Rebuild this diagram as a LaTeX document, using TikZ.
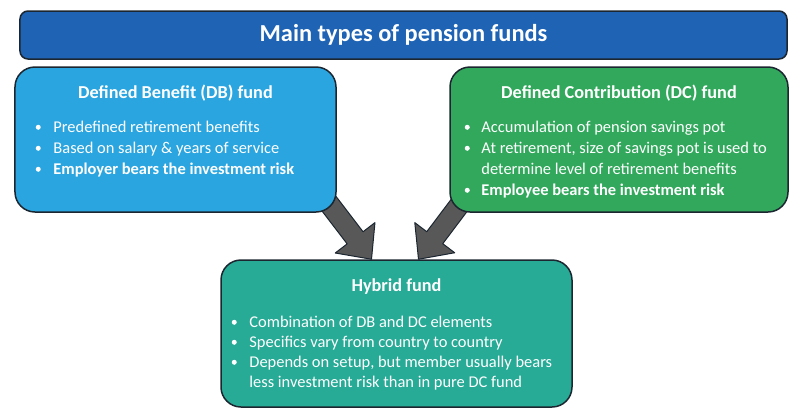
\documentclass[tikz,border=0pt]{standalone}
\usepackage{fontspec}
\setmainfont{Carlito}
\usetikzlibrary{calc,backgrounds}
\definecolor{titleblue}{RGB}{30,99,180}
\definecolor{dbblue}{RGB}{42,165,224}
\definecolor{dcgreen}{RGB}{49,168,92}
\definecolor{hybteal}{RGB}{39,170,150}
\definecolor{edgecol}{RGB}{28,38,48}
\definecolor{arrowgray}{RGB}{88,88,88}
\tikzset{x=1bp,y=1bp,every node/.style={font=\fontsize{16.5}{19}\selectfont,text=white},
 fundbox/.style={draw=edgecol,line width=1.5bp,rounded corners=20bp,inner sep=0},
 head/.style={font=\fontsize{18.3}{20}\selectfont\bfseries},
 item/.style={anchor=base west,inner sep=0},
 dot/.style={circle,fill=white,inner sep=0,minimum size=5bp},
 blockarrow/.style={fill=arrowgray,draw=edgecol,line width=1bp,line join=round}}
\begin{document}
\begin{tikzpicture}
\useasboundingbox (0,0) rectangle (800,-415);
\node[fundbox,rounded corners=8bp,fill=titleblue,minimum width=767bp,minimum height=48bp] (title) at (403.5,-35) {\fontsize{24.5}{27}\selectfont\bfseries Main types of pension funds};
\node[fundbox,fill=dbblue,minimum width=321bp,minimum height=145bp] (db) at (175.5,-139.5) {};
\node[fundbox,fill=dcgreen,minimum width=338bp,minimum height=145bp] (dc) at (619,-139.5) {};
\node[fundbox,fill=hybteal,minimum width=351bp,minimum height=147bp] (hyb) at (396.5,-333.5) {};
\node[head] (dbhead) at ([yshift=-27bp]db.north) {Defined Benefit (DB) fund};
\node[head] (dchead) at ([yshift=-27bp]dc.north) {Defined Contribution (DC) fund};
\node[head] (hybhead) at ([yshift=-27bp]hyb.north) {Hybrid fund};
% bullet lists, 1 = line with a bullet
\foreach \b/\t [count=\i] in {1/Predefined retirement benefits,1/Based on salary \& years of service,1/\textbf{Employer bears the investment risk}}{
\node[item] (db\i) at ($(db.north west)+(39,-45-21*\i)$) {\t};
\ifnum\b=1 \node[dot] (dbdot\i) at ($(db\i.base west)+(-15,5)$) {};\fi}
\foreach \b/\t [count=\i] in {1/Accumulation of pension savings pot,1/{At retirement, size of savings pot is used to},0/determine level of retirement benefits,1/\textbf{Employee bears the investment risk}}{
\node[item] (dc\i) at ($(dc.north west)+(32,-45-21*\i)$) {\t};
\ifnum\b=1 \node[dot] (dcdot\i) at ($(dc\i.base west)+(-14,5)$) {};\fi}
\foreach \b/\t [count=\i] in {1/Combination of DB and DC elements,1/Specifics vary from country to country,1/{Depends on setup, but member usually bears},0/less investment risk than in pure DC fund}{
\node[item] (hyb\i) at ($(hyb.north west)+(29,-48-20*\i)$) {\t};
\ifnum\b=1 \node[dot] (hybdot\i) at ($(hyb\i.base west)+(-15,5)$) {};\fi}
% block arrows, tails hidden under the boxes
\coordinate (dbtail) at ($(db.south east)+(-36,46)$);
\coordinate (dbtip) at ([xshift=-25bp]hyb.north);
\coordinate (dctail) at ($(dc.south west)+(39,46)$);
\coordinate (dctip) at ([xshift=22bp]hyb.north);
\begin{scope}[on background layer]
\foreach \src/\dst in {dbtail/dbtip,dctail/dctip}
\draw[blockarrow] let \p1=($(\dst)-(\src)$),\n1={atan2(\y1,\x1)} in
 ($(\src)+(\n1+90:10bp)$) -- ($(\dst)+(\n1:-27bp)+(\n1+90:10bp)$) -- ($(\dst)+(\n1:-27bp)+(\n1+90:25bp)$) -- (\dst)
 -- ($(\dst)+(\n1:-27bp)+(\n1-90:25bp)$) -- ($(\dst)+(\n1:-27bp)+(\n1-90:10bp)$) -- ($(\src)+(\n1-90:10bp)$) -- cycle;
\end{scope}
\end{tikzpicture}
\end{document}
